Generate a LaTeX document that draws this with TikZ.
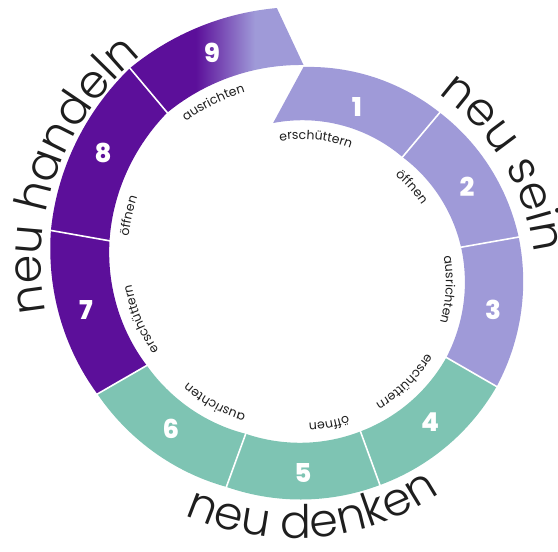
\documentclass[tikz,border=0pt]{standalone}
\usepackage{fontspec}
\setmainfont{Poppins}
\newfontfamily\thinfont{Poppins Light}
\newfontfamily\heavyfont{Poppins ExtraBold}
\usetikzlibrary{decorations.text}
\definecolor{ringlav}{HTML}{9F9AD8}
\definecolor{ringteal}{HTML}{7EC4B3}
\definecolor{ringpurple}{HTML}{5C0F9A}
\definecolor{inktext}{HTML}{1E1E1E}
\pgfdeclarehorizontalshading{ninefade}{100bp}{color(0bp)=(ringpurple); color(44bp)=(ringpurple); color(61bp)=(ringlav); color(100bp)=(ringlav)}
% spiral piece: outer from #1 to #2 (radius #3 to #4), inner from #5 to #6 (radius #7 to #8)
\newcommand{\ringpart}[9]{\path[#9] plot[domain=#1:#2,samples=30,variable=\t] ({303.5+(#3+(#4-#3)*(\t-(#1))/(#2-(#1)))*sin(\t)},{277+(#3+(#4-#3)*(\t-(#1))/(#2-(#1)))*cos(\t)}) -- plot[domain=#6:#5,samples=30,variable=\t] ({303.5+(#7+(#8-#7)*(\t-(#5))/(#6-(#5)))*sin(\t)},{277+(#7+(#8-#7)*(\t-(#5))/(#6-(#5)))*cos(\t)}) -- cycle;}
% small word along the inner edge
\newcommand{\steplabel}[4]{\path[decorate,decoration={text along path,text align=left,text color=inktext,text={|\fontsize{12.5}{12.5}\selectfont|#4}}] plot[domain=#1:#1+40,samples=40,variable=\t] ({303.5+(#2+(#3-#2)*(\t-(#1))/40)*sin(\t)},{277+(#2+(#3-#2)*(\t-(#1))/40)*cos(\t)});}
\tikzset{
  numlabel/.style={text=white,font=\heavyfont\fontsize{26}{26}\selectfont},
  sep/.style={white,line width=1.6pt},
}
\begin{document}
\begin{tikzpicture}[x=1pt,y=1pt]
    \useasboundingbox (0,0) rectangle (558,552);
    \coordinate (c) at (303.5,277);
    % ring pieces
    \ringpart{0}{40}{208}{212}{-11.3}{40}{155}{154}{fill=ringlav}
    \ringpart{40}{80}{212}{218.5}{40}{80}{154}{160}{fill=ringlav}
    \ringpart{80}{120}{218.5}{223}{80}{120}{160}{165}{fill=ringlav}
    \ringpart{120}{160}{223}{223.5}{120}{160}{165}{166.5}{fill=ringteal}
    \ringpart{160}{200}{223.5}{225.5}{160}{200}{166.5}{169}{fill=ringteal}
    \ringpart{200}{240}{225.5}{238}{200}{240}{169}{181}{fill=ringteal}
    \ringpart{240}{280}{238}{256.5}{240}{280}{181}{197}{fill=ringpurple}
    \ringpart{280}{320}{256.5}{270}{280}{320}{197}{212}{fill=ringpurple}
    \ringpart{320}{354.3}{270}{268.3}{320}{360}{212}{210}{shading=ninefade}
    % white cuts
    \draw[sep] ([shift={(c)}]50:152) -- ([shift={(c)}]50:214);
    \draw[sep] ([shift={(c)}]10:158) -- ([shift={(c)}]10:220.5);
    \draw[sep] ([shift={(c)}]-30:163) -- ([shift={(c)}]-30:225);
    \draw[sep] ([shift={(c)}]-70:164.5) -- ([shift={(c)}]-70:225.5);
    \draw[sep] ([shift={(c)}]-110:167) -- ([shift={(c)}]-110:227.5);
    \draw[sep] ([shift={(c)}]-150:179) -- ([shift={(c)}]-150:240);
    \draw[sep] ([shift={(c)}]170:195) -- ([shift={(c)}]170:258.5);
    \draw[sep] ([shift={(c)}]130:210) -- ([shift={(c)}]130:272);
    % numbers
    \node[numlabel] (n1) at (357,445) {1};
    \node[numlabel] (n2) at (467,365) {2};
    \node[numlabel] (n3) at (493,242) {3};
    \node[numlabel] (n4) at (430,130) {4};
    \node[numlabel] (n5) at (303,79) {5};
    \node[numlabel] (n6) at (171,123) {6};
    \node[numlabel] (n7) at (86,242) {7};
    \node[numlabel] (n8) at (103,399) {8};
    \node[numlabel] (n9) at (212,499) {9};
    % words inside
    \steplabel{-10}{136}{135}{erschüttern}
    \steplabel{42.5}{135.4}{141}{öffnen}
    \steplabel{82.5}{141.3}{146}{ausrichten}
    \steplabel{122.5}{146.1}{147.5}{erschüttern}
    \steplabel{162.5}{147.6}{150}{öffnen}
    \steplabel{202.5}{150.8}{162}{ausrichten}
    \steplabel{242.5}{163}{178}{erschüttern}
    \steplabel{282.5}{179}{193}{öffnen}
    \steplabel{322.5}{193}{191}{ausrichten}
    % big words outside
    \path[decorate,decoration={text along path,text align=center,text color=inktext,text={|\thinfont\fontsize{46}{46}\selectfont|neu sein}}]
        plot[domain=28:93,samples=60,variable=\t] ({303.5+(225.5+0.127*(\t-36))*sin(\t)},{277+(225.5+0.127*(\t-36))*cos(\t)});
    \path[decorate,decoration={text along path,text align=center,text color=inktext,text={|\thinfont\fontsize{46}{46}\selectfont|neu handeln}}]
        plot[domain=255:330,samples=60,variable=\t] ({303.5+(261+0.186*(\t-263))*sin(\t)},{277+(261+0.186*(\t-263))*cos(\t)});
    \path[decorate,decoration={text along path,text align=center,text color=inktext,text={|\thinfont\fontsize{46}{46}\selectfont|neu denken}}]
        plot[domain=212:142,samples=60,variable=\t] ({303.5+(263+0.17*(\t-180))*sin(\t)},{277+(263+0.17*(\t-180))*cos(\t)});
\end{tikzpicture}
\end{document}
